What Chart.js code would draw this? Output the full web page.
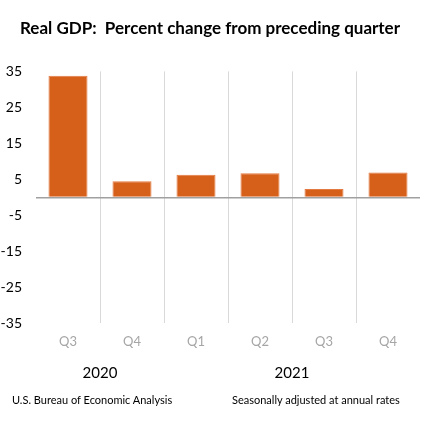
<!DOCTYPE html>
<html>
<head>
<meta charset="utf-8">
<script src="https://cdn.jsdelivr.net/npm/chart.js@4"></script>
<style>
  body { margin: 0; background: #fff; }
  #wrap { position: absolute; left: 0; top: 0; width: 425px; height: 394px; }
  .foot { position: absolute; top: 393px; font: 11px Lato, sans-serif; color: #000; }
</style>
</head>
<body>
<div id="wrap"><canvas id="gdp-chart"></canvas></div>
<div class="foot" style="left:12px">U.S. Bureau of Economic Analysis</div>
<div class="foot" style="left:232px">Seasonally adjusted at annual rates</div>
<script>
const quarters = ['Q3', 'Q4', 'Q1', 'Q2', 'Q3', 'Q4'];
const gdpChange = [33.8, 4.5, 6.3, 6.7, 2.3, 6.9];
const years = ['2020', '2021'];
// year label sits in the middle of its quarters (category index units)
const yearPositions = [0.5, 3.5];
const yTicks = [-35, -25, -15, -5, 5, 15, 25, 35];

const ctx = document.getElementById('gdp-chart').getContext('2d');
const chart = new Chart(ctx, {
  type: 'bar',
  data: {
    labels: quarters,
    datasets: [{
      data: gdpChange,
      backgroundColor: '#d65f1a',
      borderColor: '#e47a40',
      borderWidth: 1,
      barPercentage: 0.61,
      categoryPercentage: 1
    }]
  },
  options: {
    responsive: true,
    maintainAspectRatio: false,
    animation: false,
    layout: { padding: { left: 0, right: 5, top: 0, bottom: 9 } },
    plugins: {
      legend: { display: false },
      tooltip: { enabled: false },
      title: {
        display: true,
        text: 'Real GDP:  Percent change from preceding quarter',
        color: '#000',
        font: { family: 'Lato', size: 17, weight: 'bold' },
        padding: { top: 18, bottom: 33 }
      }
    },
    scales: {
      x: {
        type: 'category',
        grid: {
          offset: true,
          drawTicks: false,
          color: (c) => (c.tick && c.index > 0) ? '#d9d9d9' : 'transparent'
        },
        border: { display: false },
        ticks: {
          color: '#a6a6a6',
          font: { family: 'Lato', size: 13 },
          padding: 11
        }
      },
      years: {
        type: 'linear',
        position: 'bottom',
        min: -0.5,
        max: 5.5,
        offset: false,
        bounds: 'data',
        grid: { display: false, drawTicks: false, offset: false },
        border: { display: false },
        afterBuildTicks: (axis) => {
          axis.ticks = yearPositions.map((v) => ({ value: v }));
        },
        ticks: {
          color: '#000',
          font: { family: 'Lato', size: 15 },
          padding: 3,
          autoSkip: false,
          maxRotation: 0,
          callback: (v) => years[yearPositions.indexOf(v)]
        }
      },
      y: {
        min: -35,
        max: 35,
        afterBuildTicks: (axis) => {
          axis.ticks = [0].concat(yTicks).map((v) => ({ value: v }));
        },
        afterFit: (axis) => { axis.width = 36; },
        grid: {
          drawTicks: false,
          color: (c) => c.tick.value === 0 ? '#a0a0a0' : 'transparent',
          lineWidth: 1.5
        },
        border: { display: false },
        ticks: {
          color: '#000',
          font: { family: 'Lato', size: 14 },
          padding: 14,
          callback: (v) => v === 0 ? '' : v
        }
      }
    }
  }
});
</script>
</body>
</html>
